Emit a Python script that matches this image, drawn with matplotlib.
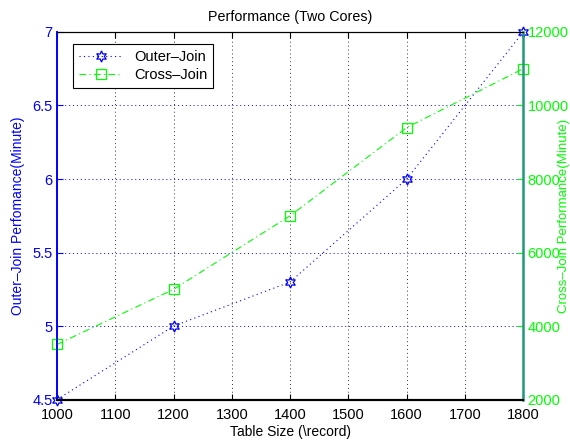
import matplotlib
matplotlib.use('Agg')
import matplotlib.pyplot as plt

plt.rcParams['font.family'] = ['Liberation Sans', 'DejaVu Sans']

# data
table_size = [1000, 1200, 1400, 1600, 1800]
outer_join = [4.5, 5.0, 5.3, 6.0, 7.0]
cross_join = [3500, 5000, 7000, 9400, 11000]

x_ticks = [1000, 1100, 1200, 1300, 1400, 1500, 1600, 1700, 1800]
left_ticks = [4.5, 5, 5.5, 6, 6.5, 7]
left_labels = ['4.5', '5', '5.5', '6', '6.5', '7']
right_ticks = [2000, 4000, 6000, 8000, 10000, 12000]

blue = '#0000ff'
green = '#00ff00'
dots = (0, (1, 3))

fig = plt.figure(figsize=(5.7, 4.44), dpi=100)
ax1 = fig.add_axes([0.1, 0.1, 0.818, 0.828])
ax2 = ax1.twinx()

l1, = ax1.plot(table_size, outer_join, linestyle=dots, color=blue, lw=0.8,
               marker=(6, 1, 0), markersize=8, markerfacecolor='none',
               markeredgecolor=blue, markeredgewidth=0.9, clip_on=False,
               label='Outer\u2013Join')
l2, = ax2.plot(table_size, cross_join, linestyle=(0, (6, 3, 1, 3)), color=green,
               lw=0.8, marker='s', markersize=7, markerfacecolor='none',
               markeredgecolor=green, markeredgewidth=0.9, clip_on=False,
               label='Cross\u2013Join')

ax1.set_xlim(1000, 1800)
ax1.set_ylim(4.5, 7)
ax2.set_ylim(2000, 12000)
ax1.set_xticks(x_ticks)
ax1.set_yticks(left_ticks)
ax1.set_yticklabels(left_labels)
ax2.set_yticks(right_ticks)

# grid: x grid black, y grid blue (matlab style)
ax1.xaxis.grid(True, linestyle=dots, color='#333333', lw=0.7)
ax1.yaxis.grid(True, linestyle=dots, color=blue, lw=0.7)
ax1.set_axisbelow(True)

ax1.tick_params(axis='x', direction='in', top=True, length=4, labelsize=10.5,
                colors='black', pad=6)
ax1.tick_params(axis='y', direction='in', length=4, labelsize=10.5,
                colors=blue, pad=3)
ax2.tick_params(axis='y', direction='in', length=4, labelsize=10.5,
                colors=green, pad=3)

for ax in (ax1, ax2):
    ax.spines['top'].set_color('black')
    ax.spines['bottom'].set_color('black')
    ax.spines['bottom'].set_linewidth(1.5)
ax1.spines['left'].set_color(blue)
ax1.spines['left'].set_linewidth(1.2)
ax2.spines['left'].set_color(blue)
ax2.spines['left'].set_linewidth(1.2)
ax1.spines['right'].set_visible(False)
ax2.spines['right'].set_color('#1e9a78')
ax2.spines['right'].set_linewidth(1.8)

ax1.set_title('Performance (Two Cores)', fontsize=10.3, pad=8)
ax1.set_xlabel('Table Size (\\record)', fontsize=10, labelpad=2)
ax1.set_ylabel('Outer\u2013Join Perfomance(Minute)', fontsize=10, color=blue)
ax1.yaxis.set_label_coords(-0.068, 0.5)
ax2.set_ylabel('Cross\u2013Join Performance(Minute)', fontsize=9.5, color=green)
ax2.yaxis.set_label_coords(1.074, 0.5)

leg = ax2.legend(handles=[l1, l2], loc='upper left',
                 bbox_to_anchor=(0.034, 0.967), borderaxespad=0,
                 fontsize=10.5, fancybox=False, framealpha=1,
                 edgecolor='black', handlelength=3, borderpad=0.4,
                 labelspacing=0.3)
leg.get_frame().set_linewidth(0.8)

fig.savefig('out.png', dpi=100)
